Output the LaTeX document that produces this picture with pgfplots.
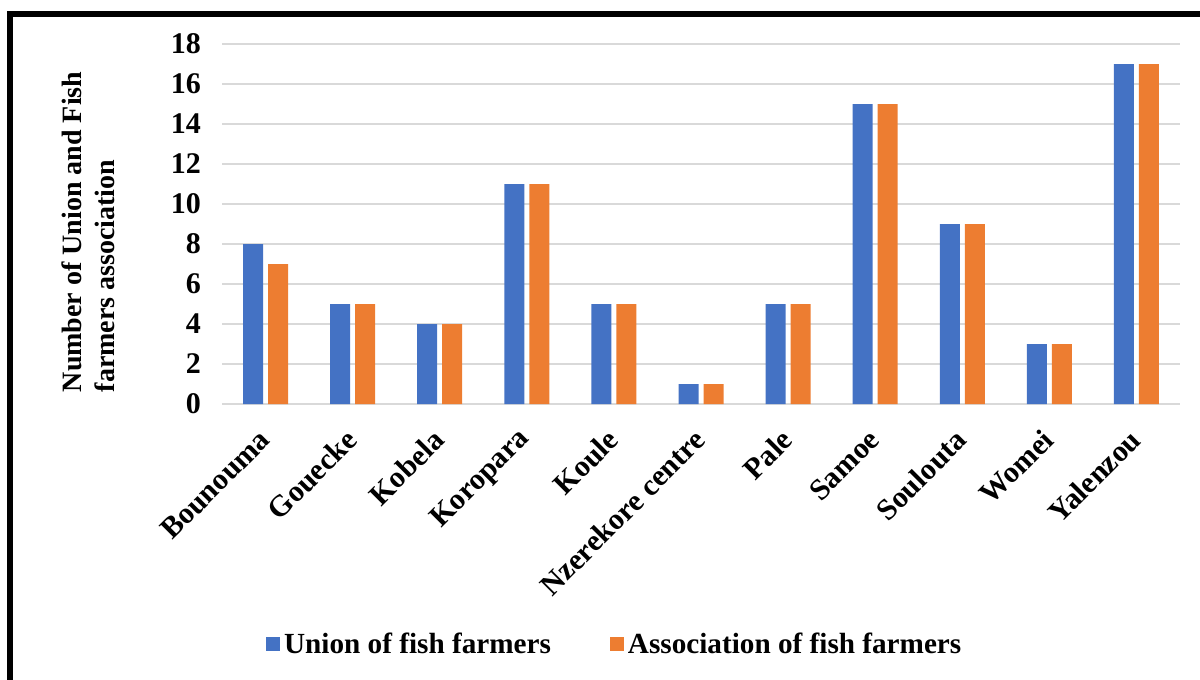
\documentclass[border=0pt]{standalone}
\usepackage{pgfplots}
\pgfplotsset{compat=1.18}
\usepackage{fontspec}
\setmainfont{Liberation Serif}
\definecolor{cblue}{HTML}{4472C4}
\definecolor{corange}{HTML}{ED7D31}
\definecolor{gridc}{HTML}{D9D9D9}
\pgfplotsset{sqleg/.style={legend image code/.code={\fill[##1] (0pt,-3.5pt) rectangle (7pt,3.5pt);}}}
\begin{document}
\begin{tikzpicture}
\useasboundingbox (0,0) rectangle (600pt,-340pt);
\draw[line width=3pt] (5.15pt,-340pt) -- (5.15pt,-7pt) -- (600pt,-7pt);
\begin{axis}[
  at={(111pt,-202pt)}, anchor=south west,
  scale only axis, width=479pt, height=180pt,
  ybar=2.5pt, bar width=10pt,
  xmin=-0.5, xmax=10.5, ymin=0, ymax=18,
  xtick={0,...,10},
  xticklabels={Bounouma,Gouecke,Kobela,Koropara,Koule,Nzerekore centre,Pale,Samoe,Soulouta,Womei,Yalenzou},
  ytick={0,2,...,18},
  ymajorgrids, grid style={gridc, line width=0.6pt},
  axis x line*=bottom, axis y line*=left,
  x axis line style={gridc, line width=0.8pt, -},
  y axis line style={draw=none},
  major tick length=0pt,
  /pgf/number format/assume math mode=true,
  tick label style={font=\fontsize{15}{18}\selectfont\bfseries},
  yticklabel style={xshift=-7pt},
  xticklabel style={xshift=2pt, yshift=-13pt, rotate=45, anchor=east},
  ylabel={Number of Union and Fish\\farmers association},
  ylabel style={align=left, font=\fontsize{14}{16.5}\selectfont\bfseries, at={(axis description cs:-0.1394,0.478)}, anchor=center},
  legend style={at={(0.411,-0.668)}, anchor=center, draw=none, legend columns=2,
    font=\fontsize{14.6}{17}\selectfont\bfseries,
    /tikz/every even column/.append style={column sep=27.5pt}},
  sqleg,
]
\addplot[fill=cblue, draw=none, sqleg] coordinates {(0,8) (1,5) (2,4) (3,11) (4,5) (5,1) (6,5) (7,15) (8,9) (9,3) (10,17)};
\addplot[fill=corange, draw=none, sqleg] coordinates {(0,7) (1,5) (2,4) (3,11) (4,5) (5,1) (6,5) (7,15) (8,9) (9,3) (10,17)};
\legend{Union of fish farmers, Association of fish farmers}
\end{axis}
\end{tikzpicture}
\end{document}
